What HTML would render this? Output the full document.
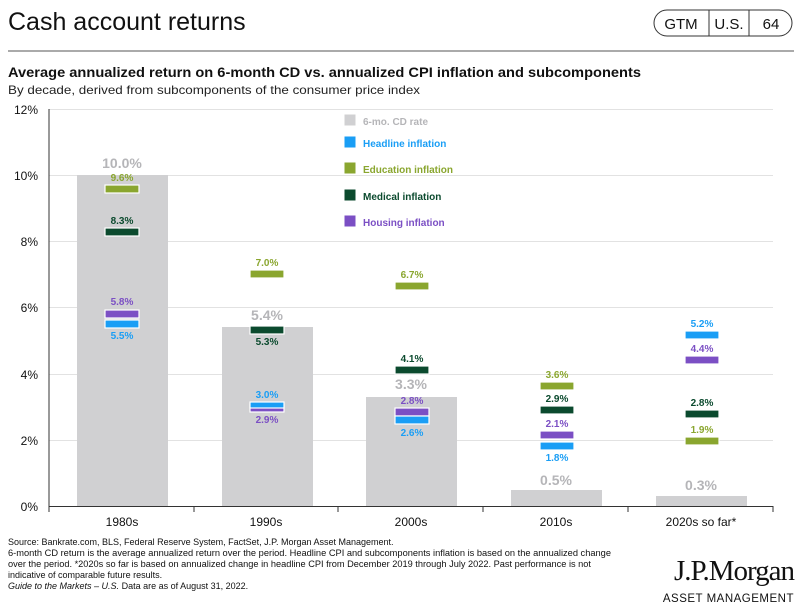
<!DOCTYPE html>
<html><head><meta charset="utf-8"><style>
body{margin:0;background:#fff;font-family:"Liberation Sans",sans-serif;}
</style></head><body>
<svg width="802" height="610" xmlns="http://www.w3.org/2000/svg" font-family="Liberation Sans, sans-serif">
<text x="8" y="30" font-size="25" fill="#111">Cash account returns</text>
<g fill="none" stroke="#333" stroke-width="1">
<rect x="654" y="10" width="138" height="26" rx="13"/>
<line x1="709" y1="10" x2="709" y2="36"/><line x1="749" y1="10" x2="749" y2="36"/>
</g>
<text x="681" y="29" font-size="15" text-anchor="middle" fill="#111">GTM</text>
<text x="729" y="29" font-size="15" text-anchor="middle" fill="#111">U.S.</text>
<text x="771" y="29" font-size="15" text-anchor="middle" fill="#111">64</text>
<line x1="8" y1="51" x2="794" y2="51" stroke="#aaa" stroke-width="2"/>
<text x="8" y="77" font-size="14" font-weight="bold" fill="#111" textLength="633" lengthAdjust="spacingAndGlyphs">Average annualized return on 6-month CD vs. annualized CPI inflation and subcomponents</text>
<text x="8" y="94" font-size="12" fill="#222" textLength="412" lengthAdjust="spacingAndGlyphs">By decade, derived from subcomponents of the consumer price index</text>
<g stroke="#e2e2e2" stroke-width="1">
<line x1="49" y1="109.5" x2="773" y2="109.5"/><line x1="49" y1="175.5" x2="773" y2="175.5"/>
<line x1="49" y1="241.5" x2="773" y2="241.5"/><line x1="49" y1="307.5" x2="773" y2="307.5"/>
<line x1="49" y1="374.5" x2="773" y2="374.5"/><line x1="49" y1="440.5" x2="773" y2="440.5"/>
</g>
<g font-size="12" fill="#111" text-anchor="end">
<text x="38" y="114">12%</text><text x="38" y="180">10%</text><text x="38" y="246">8%</text>
<text x="38" y="312">6%</text><text x="38" y="379">4%</text><text x="38" y="445">2%</text><text x="38" y="511">0%</text>
</g>
<g fill="#d0d0d2">
<rect x="77" y="175" width="91" height="331"/>
<rect x="222" y="327" width="91" height="179"/>
<rect x="366" y="397" width="91" height="109"/>
<rect x="511" y="490" width="91" height="16"/>
<rect x="656" y="496" width="91" height="10"/>
</g>
<line x1="49" y1="109" x2="49" y2="506" stroke="#333"/>
<line x1="49" y1="506.5" x2="773" y2="506.5" stroke="#333"/>
<g stroke="#333"><line x1="49" y1="506" x2="49" y2="512"/><line x1="194" y1="506" x2="194" y2="512"/><line x1="338" y1="506" x2="338" y2="512"/><line x1="483" y1="506" x2="483" y2="512"/><line x1="628" y1="506" x2="628" y2="512"/><line x1="773" y1="506" x2="773" y2="512"/></g>
<g font-size="12" fill="#111" text-anchor="middle">
<text x="122" y="526">1980s</text><text x="266" y="526">1990s</text><text x="411" y="526">2000s</text><text x="556" y="526">2010s</text><text x="701" y="526">2020s so far*</text>
</g>
<g font-size="14" font-weight="bold" fill="#b5b5b8" text-anchor="middle">
<text x="122" y="168">10.0%</text><text x="267" y="320">5.4%</text><text x="411" y="389">3.3%</text><text x="556" y="485">0.5%</text><text x="701" y="490">0.3%</text>
</g>
<g stroke="#fff" stroke-width="1.2">
<g fill="#8aa62f"><rect x="105" y="185" width="34" height="8"/><rect x="250" y="270" width="34" height="8"/><rect x="395" y="282" width="34" height="8"/><rect x="540" y="382" width="34" height="8"/><rect x="685" y="437" width="34" height="8"/></g>
<g fill="#0b4a2e"><rect x="105" y="228" width="34" height="8"/><rect x="250" y="326" width="34" height="8"/><rect x="395" y="366" width="34" height="8"/><rect x="540" y="406" width="34" height="8"/><rect x="685" y="410" width="34" height="8"/></g>
<g fill="#7b4fc4"><rect x="105" y="310" width="34" height="8"/><rect x="250" y="404" width="34" height="8"/><rect x="395" y="408" width="34" height="8"/><rect x="540" y="431" width="34" height="8"/><rect x="685" y="356" width="34" height="8"/></g>
<g fill="#1a9ef5"><rect x="105" y="320" width="34" height="8"/><rect x="250" y="402" width="34" height="6"/><rect x="395" y="416" width="34" height="8"/><rect x="540" y="442" width="34" height="8"/><rect x="685" y="331" width="34" height="8"/></g>
</g>
<g font-size="10" font-weight="bold" text-anchor="middle">
<g fill="#8aa62f"><text x="122" y="181">9.6%</text><text x="267" y="266">7.0%</text><text x="412" y="278">6.7%</text><text x="557" y="378">3.6%</text><text x="702" y="433">1.9%</text></g>
<g fill="#0b4a2e"><text x="122" y="224">8.3%</text><text x="267" y="345">5.3%</text><text x="412" y="362">4.1%</text><text x="557" y="402">2.9%</text><text x="702" y="406">2.8%</text></g>
<g fill="#7b4fc4"><text x="122" y="305">5.8%</text><text x="267" y="423">2.9%</text><text x="412" y="404">2.8%</text><text x="557" y="427">2.1%</text><text x="702" y="352">4.4%</text></g>
<g fill="#1a9ef5"><text x="122" y="339">5.5%</text><text x="267" y="398">3.0%</text><text x="412" y="436">2.6%</text><text x="557" y="461">1.8%</text><text x="702" y="327">5.2%</text></g>
</g>
<g stroke="#fff" stroke-width="1">
<rect x="344" y="114" width="12" height="12" fill="#d0d0d2"/>
<rect x="344" y="136" width="12" height="12" fill="#1a9ef5"/>
<rect x="344" y="162" width="12" height="12" fill="#8aa62f"/>
<rect x="344" y="189" width="12" height="12" fill="#0b4a2e"/>
<rect x="344" y="215" width="12" height="12" fill="#7b4fc4"/>
</g>
<g font-size="10" font-weight="bold">
<text x="363" y="125" fill="#b5b5b8">6-mo. CD rate</text>
<text x="363" y="147" fill="#1a9ef5">Headline inflation</text>
<text x="363" y="173" fill="#8aa62f">Education inflation</text>
<text x="363" y="200" fill="#0b4a2e">Medical inflation</text>
<text x="363" y="226" fill="#7b4fc4">Housing inflation</text>
</g>
<g font-size="9" fill="#111">
<text x="8" y="545">Source: Bankrate.com, BLS, Federal Reserve System, FactSet, J.P. Morgan Asset Management.</text>
<text x="8" y="556" textLength="603" lengthAdjust="spacingAndGlyphs">6-month CD return is the average annualized return over the period. Headline CPI and subcomponents inflation is based on the annualized change</text>
<text x="8" y="567" textLength="583" lengthAdjust="spacingAndGlyphs">over the period. *2020s so far is based on annualized change in headline CPI from December 2019 through July 2022. Past performance is not</text>
<text x="8" y="578">indicative of comparable future results.</text>
<text x="8" y="589"><tspan font-style="italic">Guide to the Markets – U.S.</tspan> Data are as of August 31, 2022.</text>
</g>
<text x="794" y="580" font-family="Liberation Serif, serif" font-size="29" fill="#111" text-anchor="end" letter-spacing="-1">J.P.Morgan</text>
<text x="794" y="602" font-size="11.5" fill="#111" text-anchor="end" letter-spacing="0.5">ASSET MANAGEMENT</text>
</svg>
</body></html>
